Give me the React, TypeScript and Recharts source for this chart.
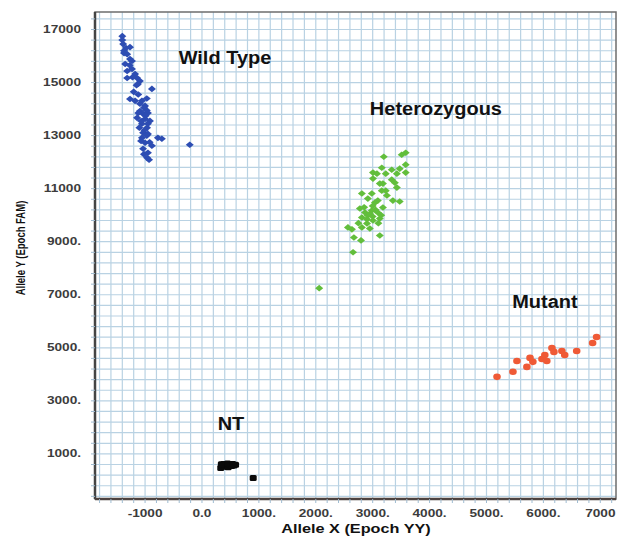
import React from "react";
import { ScatterChart, Scatter, XAxis, YAxis, CartesianGrid, ReferenceArea } from "recharts";

// axis ticks and their printed labels
const xMajorTicks = [-1000, 0, 1000, 2000, 3000, 4000, 5000, 6000, 7000];
const xTickLabels = ["-1000", "0.0", "1000.", "2000.", "3000.", "4000.", "5000.", "6000.", "7000"];
const yMajorTicks = [1000, 3000, 5000, 7000, 9000, 11000, 13000, 15000, 17000];
const yTickLabels = ["1000.", "3000.", "5000.", "7000.", "9000.", "11000", "13000", "15000", "17000"];

const X_DOMAIN: [number, number] = [-1880, 7276];
const Y_DOMAIN: [number, number] = [-700, 17660];

// genotype clusters, [Allele X, Allele Y]
const wildType = [
  [-1400, 16750], [-1400, 16600], [-1385, 16450], [-1335, 16300], [-1265, 16335], [-1370, 16110],
  [-1315, 16070], [-1265, 15885], [-1230, 15810], [-1350, 15700], [-1315, 15435], [-1230, 15510],
  [-1175, 15320], [-1315, 15170], [-1140, 15170], [-1090, 15060], [-1125, 14945], [-880, 14760],
  [-1265, 14380], [-1175, 14310], [-1055, 14310], [-1000, 14120], [-1090, 13930], [-1035, 13820],
  [-950, 13855], [-1140, 13670], [-1000, 13630], [-915, 13555], [-1055, 13445], [-965, 13295],
  [-1035, 13105], [-950, 13065], [-1055, 12915], [-775, 12915], [-705, 12880], [-1000, 12730],
  [-880, 12615], [-1035, 12505], [-950, 12355], [-965, 12165], [-930, 12090], [-215, 12655],
  [-1220, 15200], [-1150, 14900], [-1200, 14650], [-1120, 14550], [-970, 14400], [-1090, 14200],
  [-1020, 14050], [-970, 13950], [-1120, 13850], [-990, 13750], [-1070, 13550], [-950, 13450],
  [-1100, 13300], [-1010, 13200], [-970, 13000], [-1070, 12800], [-920, 12750], [-1020, 12300],
  [-1270, 15650], [-1370, 16200],
];

const heterozygous = [
  [3195, 12205], [3510, 12280], [3580, 12355], [3580, 11905], [3475, 11755], [3580, 11605],
  [3160, 11790], [3005, 11605], [3075, 11565], [3335, 11715], [3425, 11565], [3230, 11565],
  [3005, 11380], [3180, 11190], [3335, 11340], [3390, 11225], [3125, 11190], [3425, 11040],
  [3230, 10925], [2810, 10815], [2985, 10815], [3160, 10925], [3250, 10740], [3355, 10550],
  [3475, 10515], [2915, 10625], [3040, 10475], [3090, 10550], [2775, 10250], [2865, 10100],
  [2985, 10175], [3090, 10100], [3180, 10290], [2810, 9915], [2915, 9990], [3005, 9800],
  [3125, 9875], [2900, 9690], [2565, 9540], [2635, 9465], [2810, 9540], [2950, 9500],
  [3125, 9235], [2670, 9160], [2795, 9050], [2655, 8600], [2060, 7250],
  [2850, 10300], [2950, 10050], [3000, 9950], [3050, 10200], [2900, 9850], [3150, 10000],
  [2750, 9700], [3000, 10350], [3100, 9700],
];

const mutant = [
  [5185, 3905], [5465, 4095], [5535, 4505], [5710, 4280], [5765, 4620], [5815, 4470],
  [5975, 4580], [6025, 4730], [6060, 4505], [6150, 4995], [6185, 4845], [6325, 4880],
  [6375, 4730], [6585, 4880], [6865, 5180], [6935, 5405],
];

const noTemplate = [
  [330, 470], [360, 560], [400, 520], [430, 600], [460, 500], [490, 580], [520, 540],
  [560, 560], [590, 590], [380, 620], [340, 610], [450, 640], [540, 620], [900, 95],
];

const clusterNames = ["Wild Type", "Heterozygous", "Mutant", "NT"];
const clusterLabelPos = [[404, 15924], [4111, 14002], [6027, 6728], [510, 2130]];

const FONT = "'Liberation Sans', Arial, Helvetica, sans-serif";

function range(from: number, to: number, step: number) {
  const out: number[] = [];
  for (let v = from; v <= to; v += step) out.push(v);
  return out;
}
const xGrid = range(-1800, 7200, 200);
const yGrid = range(-600, 17400, 400);

const pts = (arr: number[][]) => arr.map(([x, y]) => ({ x, y }));

const diamond = (color: string) => (p: any) => (
  <polygon
    points={`${p.cx - 4},${p.cy} ${p.cx},${p.cy - 3.3} ${p.cx + 4},${p.cy} ${p.cx},${p.cy + 3.3}`}
    fill={color}
  />
);
const dot = (p: any) => <ellipse cx={p.cx} cy={p.cy} rx={3.8} ry={3.3} fill="#ef5a36" />;
const block = (p: any) => <rect x={p.cx - 3.5} y={p.cy - 3} width={7} height={6} rx={1.5} fill="#0a0a0a" />;

const XTick = (props: any) => {
  const i = xMajorTicks.indexOf(props.payload.value);
  if (i < 0) return null;
  return (
    <text
      transform={`translate(${props.x},${props.y + 9}) scale(1.3,1)`}
      textAnchor="middle"
      dominantBaseline="central"
      fontFamily={FONT}
      fontWeight="bold"
      fontSize={10.5}
      fill="#3c3c3c"
    >
      {xTickLabels[i]}
    </text>
  );
};

const YTick = (props: any) => {
  const i = yMajorTicks.indexOf(props.payload.value);
  if (i < 0) return null;
  return (
    <text
      transform={`translate(${props.x - 8},${props.y}) scale(1.3,1)`}
      textAnchor="end"
      dominantBaseline="central"
      fontFamily={FONT}
      fontWeight="bold"
      fontSize={10.5}
      fill="#3c3c3c"
    >
      {yTickLabels[i]}
    </text>
  );
};

const clusterLabel = (p: any) => (
  <text
    transform={`translate(${p.cx},${p.cy}) scale(1.08,1)`}
    textAnchor="middle"
    dominantBaseline="central"
    fontFamily={FONT}
    fontWeight="bold"
    fontSize={18.5}
    fill="#111"
  >
    {p.payload.name}
  </text>
);

export default function App() {
  const labels = clusterNames.map((name, i) => ({ name, x: clusterLabelPos[i][0], y: clusterLabelPos[i][1] }));
  return (
    <div style={{ position: "absolute", left: 0, top: 0, background: "#fff" }}>
      <ScatterChart width={618} height={536} margin={{ top: 12, right: 2, bottom: 7, left: 15 }}>
        <CartesianGrid
          stroke="#b9d2e3"
          strokeWidth={1.2}
          verticalValues={xGrid}
          horizontalValues={yGrid}
        />
        <ReferenceArea
          x1={X_DOMAIN[0]} x2={X_DOMAIN[1]} y1={Y_DOMAIN[0]} y2={Y_DOMAIN[1]}
          fill="none" stroke="#6d6d6d" strokeWidth={1.5} ifOverflow="visible"
        />
        <XAxis
          type="number" dataKey="x" domain={X_DOMAIN} allowDataOverflow
          ticks={xGrid} interval={0} height={30} tickSize={4} tickMargin={2}
          tickLine={{ stroke: "#9fbbd0" }} axisLine={{ stroke: "#4e4340", strokeWidth: 2.5 }}
          tick={<XTick />}
          label={{
            content: () => (
              <text
                transform="translate(356,529) scale(1.3,1)"
                textAnchor="middle" dominantBaseline="central"
                fontFamily={FONT} fontWeight="bold" fontSize={12.5} fill="#111"
              >
                Allele X (Epoch YY)
              </text>
            ),
          }}
        />
        <YAxis
          type="number" dataKey="y" domain={Y_DOMAIN} allowDataOverflow
          ticks={yGrid} interval={0} width={80} tickSize={4} tickMargin={2}
          tickLine={{ stroke: "#9fbbd0" }} axisLine={{ stroke: "#444", strokeWidth: 2.5 }}
          tick={<YTick />}
          label={{
            content: () => (
              <text
                transform="translate(20,248) scale(1.4,1) rotate(-90)"
                textAnchor="middle" dominantBaseline="central"
                fontFamily={FONT} fontWeight="bold" fontSize={9.5} fill="#111"
              >
                Allele Y (Epoch FAM)
              </text>
            ),
          }}
        />
        <Scatter data={pts(wildType)} shape={diamond("#2d4db3")} isAnimationActive={false} />
        <Scatter data={pts(heterozygous)} shape={diamond("#62be3c")} isAnimationActive={false} />
        <Scatter data={pts(mutant)} shape={dot} isAnimationActive={false} />
        <Scatter data={pts(noTemplate)} shape={block} isAnimationActive={false} />
        <Scatter data={labels} shape={clusterLabel} isAnimationActive={false} />
      </ScatterChart>
    </div>
  );
}
